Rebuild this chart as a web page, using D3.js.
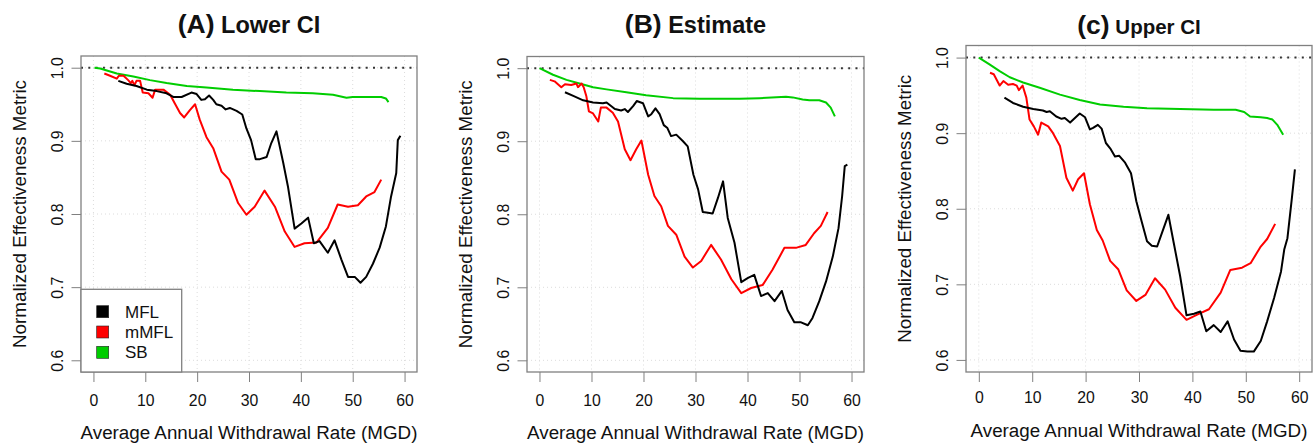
<!DOCTYPE html>
<html>
<head>
<meta charset="utf-8">
<script src="https://cdn.jsdelivr.net/npm/d3@7"></script>
<style>
  body { margin: 0; background: #fff; }
  svg { display: block; font-family: "Liberation Sans", Arial, sans-serif; }
</style>
</head>
<body>
<svg id="chart" width="1315" height="444"></svg>
<script>
// ---- Dados (x = MGD, y = métrica normalizada)
const xTicks = [0, 10, 20, 30, 40, 50, 60];
const yTicks = [0.6, 0.7, 0.8, 0.9, 1.0];
const seriesNames = ['MFL', 'mMFL', 'SB'];
const seriesColors = ['#000000', '#ff0000', '#00cd00'];

const lowerMFL = [[4.8,0.982],[6.4,0.978],[8.3,0.975],[10.3,0.970],[12.2,0.968],[14.1,0.965],[15.4,0.960],[17.0,0.960],[18.9,0.966],[19.9,0.964],[20.8,0.956],[21.5,0.957],[22.3,0.962],[23.1,0.956],[23.7,0.950],[24.7,0.948],[25.5,0.943],[26.3,0.945],[27.6,0.941],[28.7,0.936],[29.5,0.917],[30.4,0.901],[31.3,0.875],[32.1,0.875],[33.4,0.878],[34.3,0.897],[35.3,0.913],[36.6,0.870],[37.5,0.838],[38.8,0.780],[40.1,0.787],[41.4,0.795],[42.5,0.760],[43.6,0.763],[45.2,0.747],[46.5,0.764],[47.8,0.738],[49.1,0.714],[50.4,0.714],[51.5,0.706],[52.6,0.714],[53.9,0.732],[55.2,0.754],[56.4,0.783],[57.4,0.824],[58.4,0.856],[58.7,0.901],[59.2,0.907]];
const lowerMMFL = [[2.1,0.992],[3.2,0.989],[4.5,0.985],[4.9,0.989],[5.8,0.989],[6.7,0.983],[7.2,0.979],[7.5,0.982],[7.9,0.976],[8.3,0.982],[9.0,0.982],[9.5,0.966],[10.6,0.965],[11.4,0.959],[11.9,0.970],[12.8,0.970],[13.5,0.970],[14.8,0.963],[15.7,0.951],[16.7,0.938],[17.5,0.932],[18.6,0.942],[19.6,0.950],[20.5,0.929],[21.8,0.905],[23.1,0.890],[24.7,0.858],[26.2,0.847],[27.9,0.815],[29.5,0.799],[31.1,0.810],[33.0,0.832],[35.0,0.810],[36.9,0.776],[38.8,0.755],[40.7,0.760],[43.0,0.761],[45.2,0.781],[47.1,0.813],[49.1,0.810],[51.0,0.812],[52.6,0.824],[54.2,0.830],[55.5,0.847]];
const lowerSB = [[0.2,1.000],[1.3,0.999],[4.5,0.992],[7.7,0.988],[10.9,0.983],[14.1,0.979],[18.0,0.975],[21.8,0.973],[26.9,0.970],[32.1,0.968],[37.2,0.966],[42.3,0.965],[46.2,0.963],[48.8,0.959],[50.0,0.960],[51.3,0.960],[53.9,0.960],[55.5,0.960],[56.4,0.958],[56.9,0.953]];

const estMFL = [[4.9,0.967],[6.5,0.962],[8.4,0.956],[10.3,0.953],[12.2,0.952],[12.9,0.953],[14.5,0.944],[15.7,0.942],[16.4,0.944],[17.0,0.940],[18.0,0.948],[18.7,0.955],[19.9,0.952],[20.9,0.934],[21.5,0.937],[22.3,0.945],[23.1,0.937],[23.9,0.922],[24.6,0.918],[25.3,0.907],[26.3,0.909],[27.6,0.900],[28.5,0.893],[29.6,0.854],[30.5,0.834],[31.4,0.803],[32.4,0.802],[33.3,0.801],[34.3,0.822],[35.3,0.845],[36.2,0.795],[37.5,0.761],[38.8,0.707],[40.1,0.713],[41.3,0.717],[42.6,0.688],[43.9,0.692],[45.2,0.681],[46.6,0.695],[47.7,0.669],[49.0,0.652],[50.3,0.652],[51.6,0.648],[52.5,0.658],[53.8,0.681],[55.1,0.708],[56.4,0.742],[57.5,0.781],[58.2,0.825],[58.7,0.866],[59.2,0.868]];
const estMMFL = [[2.0,0.984],[2.9,0.982],[4.2,0.974],[4.9,0.978],[6.1,0.977],[7.1,0.979],[7.4,0.974],[8.1,0.979],[8.5,0.974],[9.0,0.962],[9.5,0.941],[10.3,0.938],[11.3,0.927],[11.8,0.946],[12.9,0.946],[14.1,0.939],[15.1,0.927],[16.4,0.889],[17.5,0.874],[18.6,0.889],[19.6,0.901],[20.9,0.854],[22.1,0.825],[23.4,0.811],[24.7,0.784],[26.3,0.772],[27.9,0.742],[29.5,0.727],[31.1,0.736],[33.0,0.758],[34.9,0.738],[36.9,0.711],[38.8,0.692],[40.7,0.699],[42.9,0.703],[44.8,0.724],[47.1,0.754],[49.3,0.754],[51.2,0.758],[52.8,0.774],[54.1,0.784],[55.4,0.803]];
const estSB = [[0.0,1.000],[2.6,0.991],[5.2,0.984],[7.7,0.979],[10.3,0.974],[12.9,0.971],[16.7,0.967],[20.5,0.963],[25.7,0.959],[30.8,0.958],[38.5,0.958],[42.3,0.959],[47.4,0.961],[48.7,0.960],[50.6,0.957],[51.9,0.956],[53.8,0.956],[55.1,0.953],[56.0,0.946],[56.8,0.934]];

const upperMFL = [[4.8,0.947],[6.4,0.940],[8.3,0.935],[10.2,0.932],[12.0,0.930],[12.7,0.928],[13.3,0.929],[14.5,0.922],[15.5,0.919],[16.1,0.920],[17.1,0.914],[18.0,0.920],[18.9,0.926],[19.9,0.921],[20.8,0.905],[21.4,0.907],[22.3,0.911],[23.0,0.906],[23.8,0.887],[24.6,0.880],[25.5,0.869],[26.3,0.870],[27.4,0.861],[28.5,0.847],[29.5,0.810],[30.5,0.783],[31.5,0.757],[32.4,0.751],[33.4,0.750],[34.3,0.768],[35.5,0.792],[36.5,0.755],[37.7,0.711],[38.9,0.659],[40.3,0.661],[41.5,0.664],[42.6,0.638],[44.0,0.646],[45.3,0.637],[46.6,0.651],[47.8,0.627],[49.0,0.612],[50.3,0.611],[51.5,0.611],[52.8,0.625],[54.0,0.651],[55.3,0.682],[56.6,0.717],[57.2,0.746],[57.8,0.761],[58.6,0.812],[59.2,0.852]];
const upperMMFL = [[2.1,0.980],[2.8,0.978],[3.9,0.963],[4.6,0.969],[5.5,0.964],[6.4,0.965],[7.1,0.963],[7.5,0.957],[8.2,0.963],[8.9,0.947],[9.5,0.918],[10.3,0.909],[11.1,0.898],[11.7,0.914],[13.0,0.909],[13.9,0.900],[15.2,0.883],[16.4,0.841],[17.6,0.824],[18.6,0.839],[19.7,0.847],[20.8,0.806],[22.1,0.772],[23.2,0.758],[24.6,0.731],[26.1,0.720],[27.7,0.692],[29.5,0.678],[31.2,0.686],[33.0,0.708],[34.9,0.693],[36.8,0.669],[38.9,0.653],[40.9,0.660],[43.1,0.667],[45.3,0.689],[47.1,0.719],[49.3,0.722],[50.9,0.728],[52.8,0.750],[54.0,0.760],[55.5,0.780]];
const upperSB = [[0.0,1.000],[2.0,0.991],[3.9,0.982],[5.8,0.974],[8.3,0.967],[11.4,0.960],[15.2,0.951],[18.9,0.944],[22.7,0.938],[27.1,0.935],[31.5,0.933],[37.7,0.932],[44.0,0.931],[48.1,0.931],[49.7,0.928],[50.8,0.922],[52.8,0.921],[54.0,0.920],[55.0,0.918],[55.9,0.911],[57.0,0.898]];

// ---- Painéis (posição da caixa de cada gráfico)
const panels = [
    { tag: '(A)', name: 'Lower CI', nameSize: 23.5, box: [81, 56, 417, 372], tickY: 28, titleY: 32.5, xTitleY: 439, series: [lowerMFL, lowerMMFL, lowerSB], legend: true },
    { tag: '(B)', name: 'Estimate', nameSize: 23.5, box: [527, 56.5, 864, 372], tickY: 28, titleY: 32.5, xTitleY: 438.5, series: [estMFL, estMMFL, estSB], legend: false },
    { tag: '(c)', name: 'Upper CI', nameSize: 20.5, box: [966, 45.5, 1312, 372], tickY: 25, titleY: 34, xTitleY: 436.5, series: [upperMFL, upperMMFL, upperSB], legend: false }
];

const svg = d3.select('#chart');
const boxColor = '#808080';
const textColor = '#111';
const font = '"Liberation Sans", Arial, sans-serif';

panels.forEach(p => {
    const [x0, y0, x1, y1] = p.box;
    const g = svg.append('g');

    // ---- Escalas (limites do R com 4% de folga)
    const mapX = d3.scaleLinear().domain([-2.4, 62.4]).range([x0, x1]);
    const mapY = d3.scaleLinear().domain([0.584, 1.016]).range([y1, y0]);

    // ---- Grade
    g.selectAll('.gx').data(xTicks).join('line')
        .attr('x1', d => mapX(d)).attr('x2', d => mapX(d))
        .attr('y1', y0).attr('y2', y1)
        .attr('stroke', '#dcdcdc').attr('stroke-dasharray', '1,3');
    g.selectAll('.gy').data(yTicks).join('line')
        .attr('x1', x0).attr('x2', x1)
        .attr('y1', d => mapY(d)).attr('y2', d => mapY(d))
        .attr('stroke', '#dcdcdc').attr('stroke-dasharray', '1,3');

    // ---- Linha de referência em 1.0
    g.append('line')
        .attr('x1', x0).attr('x2', x1)
        .attr('y1', mapY(1)).attr('y2', mapY(1))
        .attr('stroke', '#333').attr('stroke-width', 2)
        .attr('stroke-dasharray', '2,5.3');

    // ---- Linhas
    const line = d3.line().x(d => mapX(d[0])).y(d => mapY(d[1]));
    [2, 1, 0].forEach(i => {
        g.append('path')
            .datum(p.series[i])
            .attr('d', line)
            .attr('fill', 'none')
            .attr('stroke', seriesColors[i])
            .attr('stroke-width', 2)
            .attr('stroke-linejoin', 'round');
    });

    // ---- Eixos
    const xAxis = d3.axisBottom(mapX).tickValues(xTicks).tickSize(10).tickFormat(d3.format('d'));
    const ax = g.append('g').attr('transform', `translate(0, ${y1})`).call(xAxis);
    ax.select('.domain').remove();
    ax.selectAll('line').attr('stroke', boxColor);
    ax.selectAll('text')
        .attr('fill', textColor).attr('font-size', 15.8)
        .attr('font-family', font)
        .attr('y', p.tickY).attr('dy', '0.36em');

    const yAxis = d3.axisLeft(mapY).tickValues(yTicks).tickSize(9.5).tickFormat(d3.format('.1f'));
    const ay = g.append('g').attr('transform', `translate(${x0}, 0)`).call(yAxis);
    ay.select('.domain').remove();
    ay.selectAll('line').attr('stroke', boxColor);
    ay.selectAll('text')
        .attr('fill', textColor).attr('font-size', 15.8)
        .attr('font-family', font)
        .attr('text-anchor', 'middle')
        .attr('x', 0).attr('dy', '0.36em')
        .attr('transform', 'translate(-23.5, 0) rotate(-90)');

    // ---- Caixa
    g.append('rect')
        .attr('x', x0).attr('y', y0)
        .attr('width', x1 - x0).attr('height', y1 - y0)
        .attr('fill', 'none').attr('stroke', boxColor).attr('stroke-width', 1.3);

    // ---- Títulos dos eixos
    g.append('text')
        .attr('x', (x0 + x1) / 2).attr('y', p.xTitleY)
        .attr('text-anchor', 'middle')
        .attr('font-size', 18.8).attr('fill', textColor)
        .text('Average Annual Withdrawal Rate (MGD)');

    g.append('text')
        .attr('transform', `translate(${x0 - 62}, ${(y0 + y1) / 2}) rotate(-90)`)
        .attr('text-anchor', 'middle')
        .attr('dy', '0.36em')
        .attr('font-size', 18.8).attr('fill', textColor)
        .text('Normalized Effectiveness Metric');

    // ---- Título do painel
    const title = g.append('text')
        .attr('x', (x0 + x1) / 2).attr('y', p.titleY)
        .attr('text-anchor', 'middle')
        .attr('font-weight', 'bold').attr('fill', textColor);
    title.append('tspan').attr('font-size', 26.5).text(p.tag);
    title.append('tspan').attr('font-size', p.nameSize).text(' ' + p.name);

    // ---- Legenda
    if (p.legend) {
        const lg = g.append('g');
        lg.append('rect')
            .attr('x', x0).attr('y', 289.3)
            .attr('width', 100.7).attr('height', y1 - 289.3)
            .attr('fill', '#fff').attr('stroke', boxColor).attr('stroke-width', 1.3);
        const rowY = d3.scaleLinear().domain([0, 2]).range([311.7, 352.3]);
        seriesNames.forEach((name, i) => {
            lg.append('rect')
                .attr('x', x0 + 15.7).attr('y', rowY(i) - 6)
                .attr('width', 12).attr('height', 12)
                .attr('fill', seriesColors[i]).attr('stroke', '#222').attr('stroke-width', 0.6);
            lg.append('text')
                .attr('x', x0 + 44).attr('y', rowY(i))
                .attr('dy', '0.36em')
                .attr('font-size', 17).attr('fill', textColor)
                .text(name);
        });
    }
});
</script>
</body>
</html>
